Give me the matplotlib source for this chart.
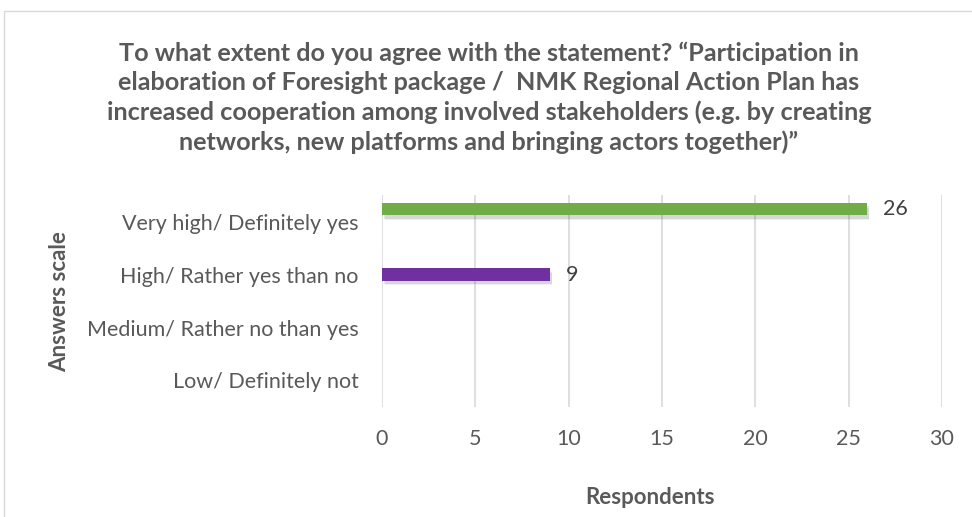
import matplotlib.pyplot as plt
from matplotlib.patches import Rectangle
import numpy as np

categories = ["Low/ Definitely not", "Medium/ Rather no than yes",
              "High/ Rather yes than no", "Very high/ Definitely yes"]
# one series per coloured bar (Excel-style clustered chart)
series_names = ["Very high", "High", "Medium"]
series_values = [
    [0, 0, 0, 26],   # green
    [0, 0, 9, 0],    # purple
    [0, 0, 0, 0],
]
series_colors = ["#70ad47", "#7030a0", "#4472c4"]
xticks = [0, 5, 10, 15, 20, 25, 30]

title = ("To what extent do you agree with the statement? \u201cParticipation in\n"
         "elaboration of Foresight package /  NMK Regional Action Plan has\n"
         "increased cooperation among involved stakeholders (e.g. by creating\n"
         "networks, new platforms and bringing actors together)\u201d")

plt.rcParams['font.family'] = ['Lato', 'DejaVu Sans']
grey = "#595959"

fig = plt.figure(figsize=(9.72, 5.17), dpi=100)
fig.patches.append(Rectangle((4/972, -0.1), 1.1, 1 - 11/517 + 0.1, transform=fig.transFigure,
                             fill=False, edgecolor="#d9d9d9", lw=1))
ax = fig.add_axes([382/972, 1 - 407/517, 560/972, 212/517])

y = np.arange(len(categories))
h = 0.23
for i, (name, vals, col) in enumerate(zip(series_names, series_values, series_colors)):
    off = (1 - i) * h
    for yi, v in zip(y, vals):
        if v == 0:
            continue
        # soft shadow (two layers to fake a blur)
        ax.barh(yi + off - 0.06, v, height=h, left=0.1, color="#000000", alpha=0.10, zorder=2)
        ax.barh(yi + off - 0.09, v - 0.05, height=h, left=0.15, color="#000000", alpha=0.06, zorder=2)
        ax.barh(yi + off, v, height=h, color=col, zorder=3)
        ax.text(v + 0.85, yi + off, str(v), va='center', ha='left', fontsize=15.5, color="#404040")

ax.set_ylim(-0.5, len(categories) - 0.5)
ax.set_xlim(0, 30)
ax.set_xticks(xticks)
ax.set_yticks(y)
ax.set_yticklabels(categories)
ax.tick_params(axis='both', length=0, labelsize=15.5, labelcolor=grey)
ax.tick_params(axis='x', pad=16)
ax.tick_params(axis='y', pad=17)
ax.grid(axis='x', color="#d9d9d9", lw=1.2, zorder=0)
ax.set_axisbelow(True)
for s in ax.spines.values():
    s.set_visible(False)

fig.text(0.503, 1 - 98/517, title, ha='center', va='center', fontsize=18.2, fontweight='bold',
         color=grey, linespacing=1.33)
fig.text(650/972, 1 - 497/517, "Respondents", ha='center', va='center', fontsize=16,
         fontweight='bold', color=grey)
fig.text(60/972, 1 - 302/517, "Answers scale", ha='center', va='center', rotation=90,
         fontsize=16, fontweight='bold', color=grey)

fig.savefig("out.png", dpi=100)
